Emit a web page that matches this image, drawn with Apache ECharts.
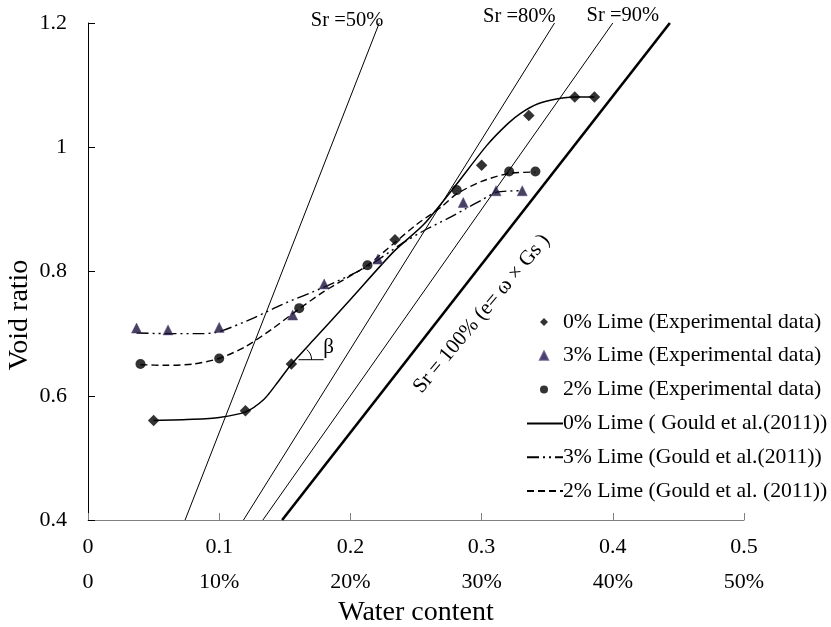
<!DOCTYPE html>
<html>
<head>
<meta charset="utf-8">
<script src="https://cdn.jsdelivr.net/npm/echarts@6/dist/echarts.min.js"></script>
<style>html,body{margin:0;padding:0;background:#fff}#c{width:831px;height:627px}</style>
</head>
<body>
<div id="c"></div>
<script>
// ---- data ----
const xTicksTop = ['0', '0.1', '0.2', '0.3', '0.4', '0.5'];
const xTicksBottom = ['0', '10%', '20%', '30%', '40%', '50%'];

const lime0Exp = [[0.050,0.560],[0.120,0.576],[0.155,0.651],[0.234,0.851],[0.300,0.971],[0.336,1.051],[0.371,1.081],[0.386,1.081]];
const lime3Exp = [[0.037,0.709],[0.061,0.706],[0.100,0.710],[0.156,0.730],[0.180,0.780],[0.221,0.820],[0.286,0.911],[0.311,0.930],[0.331,0.930]];
const lime2Exp = [[0.040,0.651],[0.100,0.660],[0.161,0.741],[0.213,0.810],[0.281,0.931],[0.321,0.961],[0.341,0.961]];

const lime0Fit = [[0.050,0.560],[0.080,0.562],[0.100,0.565],[0.120,0.574],[0.134,0.594],[0.144,0.620],[0.154,0.648],[0.172,0.690],[0.200,0.755],[0.233,0.832],[0.256,0.876],[0.280,0.938],[0.304,1.003],[0.320,1.038],[0.330,1.055],[0.343,1.070],[0.358,1.078],[0.371,1.081],[0.386,1.081]];
const lime3Fit = [[0.037,0.701],[0.060,0.700],[0.088,0.700],[0.100,0.703],[0.126,0.725],[0.147,0.746],[0.180,0.775],[0.213,0.808],[0.240,0.846],[0.258,0.868],[0.274,0.885],[0.287,0.900],[0.300,0.915],[0.312,0.928],[0.331,0.930]];
const lime2Fit = [[0.040,0.650],[0.060,0.649],[0.080,0.651],[0.100,0.660],[0.120,0.679],[0.140,0.707],[0.161,0.740],[0.180,0.768],[0.213,0.810],[0.233,0.845],[0.250,0.875],[0.270,0.905],[0.281,0.925],[0.300,0.945],[0.321,0.958],[0.341,0.960]];

const sr50 = [[0.074,0.4],[0.222,1.2]];
const sr80 = [[0.1185,0.4],[0.3556,1.2]];
const sr90 = [[0.1333,0.4],[0.4000,1.2]];
const sr100 = [[0.148,0.4],[0.4435,1.2]];
const betaLine = [[0.1605,0.658],[0.1796,0.658]];

const expNames = ['0% Lime (Experimental data)','3% Lime (Experimental data)','2% Lime (Experimental data)'];
const fitNames = ['0% Lime ( Gould et al.(2011))','3% Lime (Gould et al.(2011))','2% Lime (Gould et al. (2011))'];

// ---- chart ----
const FONT = "'Liberation Serif','Times New Roman',serif";
const chart = echarts.init(document.getElementById('c'), null, {renderer:'canvas'});

function refLine(name, data, w) {
  return {name, type:'line', data, showSymbol:false, symbol:'none', silent:true,
    lineStyle:{color:'#000', width:w}, itemStyle:{color:'#000'}, z:1};
}
const legendText = {fontFamily:FONT, fontSize:21.7, color:'#000', lineHeight:22};

const option = {
  animation:false,
  backgroundColor:'#fff',
  textStyle:{fontFamily:FONT, color:'#000'},
  grid:{left:88, right:87, top:23, bottom:107, outerBoundsMode:'none', containLabel:false},
  legend:[
    {data:expNames, orient:'vertical', left:539, top:311, padding:0,
      itemWidth:8, itemHeight:8, itemGap:11.8,
      textStyle:Object.assign({}, legendText, {padding:[0,0,0,10]})},
    {data:fitNames, orient:'vertical', left:526, top:311+3*33.8, padding:0,
      itemWidth:36, itemHeight:8, itemGap:11.8,
      itemStyle:{opacity:0},
      textStyle:Object.assign({}, legendText, {padding:[0,0,0,-5]})}
  ],
  xAxis:{
    type:'value', min:0, max:0.5, interval:0.1,
    name:'Water content', nameLocation:'middle', nameGap:76,
    nameTextStyle:{fontFamily:FONT, fontSize:28, color:'#000'},
    axisLine:{lineStyle:{color:'#808080', width:1}},
    axisTick:{inside:true, length:7, lineStyle:{color:'#808080'}},
    splitLine:{show:false},
    axisLabel:{
      margin:10, color:'#000', fontFamily:FONT,
      formatter:function(v){const i=Math.round(v*10);return '{a|'+xTicksTop[i]+'}\n{b|'+xTicksBottom[i]+'}';},
      rich:{a:{fontSize:22, lineHeight:35, fontFamily:FONT, color:'#000'}, b:{fontSize:22, lineHeight:35, fontFamily:FONT, color:'#000'}}
    }
  },
  yAxis:{
    type:'value', min:0.4, max:1.2, interval:0.2,
    axisLine:{lineStyle:{color:'#000', width:1}},
    axisTick:{inside:true, length:7, lineStyle:{color:'#000'}},
    splitLine:{show:false},
    axisLabel:{margin:21, fontSize:22, color:'#000', fontFamily:FONT,
      formatter:function(v){return String(+v.toFixed(1));}}
  },
  series:[
    refLine('Sr50', sr50, 1),
    refLine('Sr80', sr80, 1),
    refLine('Sr90', sr90, 1),
    refLine('Sr100', sr100, 2.6),
    refLine('beta', betaLine, 1),
    {name:fitNames[0], type:'line', data:lime0Fit, showSymbol:false, symbol:'none', smooth:0.25,
      itemStyle:{color:'#000'}, lineStyle:{color:'#000', width:1.5, type:'solid'}, z:2},
    {name:fitNames[1], type:'line', data:lime3Fit, showSymbol:false, symbol:'none', smooth:0.25,
      itemStyle:{color:'#000'}, lineStyle:{color:'#000', width:1.4, type:[12,4,2,4,2,4]}, z:2},
    {name:fitNames[2], type:'line', data:lime2Fit, showSymbol:false, symbol:'none', smooth:0.25,
      itemStyle:{color:'#000'}, lineStyle:{color:'#000', width:1.4, type:[7,4]}, z:2},
    {name:expNames[0], type:'scatter', data:lime0Exp, symbol:'diamond', symbolSize:11.5,
      itemStyle:{color:'#000'}, z:5},
    {name:expNames[1], type:'scatter', data:lime3Exp, symbol:'triangle', symbolSize:10,
      itemStyle:{color:'#1c1238', borderColor:'#4e3f80', borderWidth:0.6}, z:5},
    {name:expNames[2], type:'scatter', data:lime2Exp, symbol:'circle', symbolSize:10,
      itemStyle:{color:'#000'}, z:5}
  ]
};
chart.setOption(option);

// ---- annotations, placed through the chart's own coordinate conversion ----
function px(p){ return chart.convertToPixel({gridIndex:0}, p); }
const t50 = px(sr50[1]), t80 = px(sr80[1]), t90 = px(sr90[1]);
const labelPoint = px([0.300, 0.732]);
const betaVertex = px(betaLine[0]);
const yTitlePos = px([0, 0.73]);
const txt = (x, y, text, align, size, rot) => ({
  type:'text', x, y, rotation:rot||0, z:10,
  style:{text, fontFamily:FONT, fontSize:size, fill:'#000', align:align||'center', verticalAlign:'middle'}
});
chart.setOption({graphic:[
  txt(yTitlePos[0]-68, yTitlePos[1], 'Void ratio', 'center', 28, Math.PI/2),
  txt(t50[0]+4, 21, 'Sr =50%', 'right', 20.5),
  txt(t80[0]+1, 17, 'Sr =80%', 'right', 20.5),
  txt(t90[0]+10, 16, 'Sr =90%', 'center', 20.5),
  txt(labelPoint[0], labelPoint[1], 'Sr = 100% (e= ω × Gs )', 'center', 21, 50*Math.PI/180),
  txt(betaVertex[0]+30, betaVertex[1]-12, 'β', 'center', 21),
  {type:'arc', z:10, shape:{cx:betaVertex[0], cy:betaVertex[1], r:13, startAngle:-0.9, endAngle:0, clockwise:true},
    style:{stroke:'#000', lineWidth:1, fill:null}}
]});
</script>
</body>
</html>
